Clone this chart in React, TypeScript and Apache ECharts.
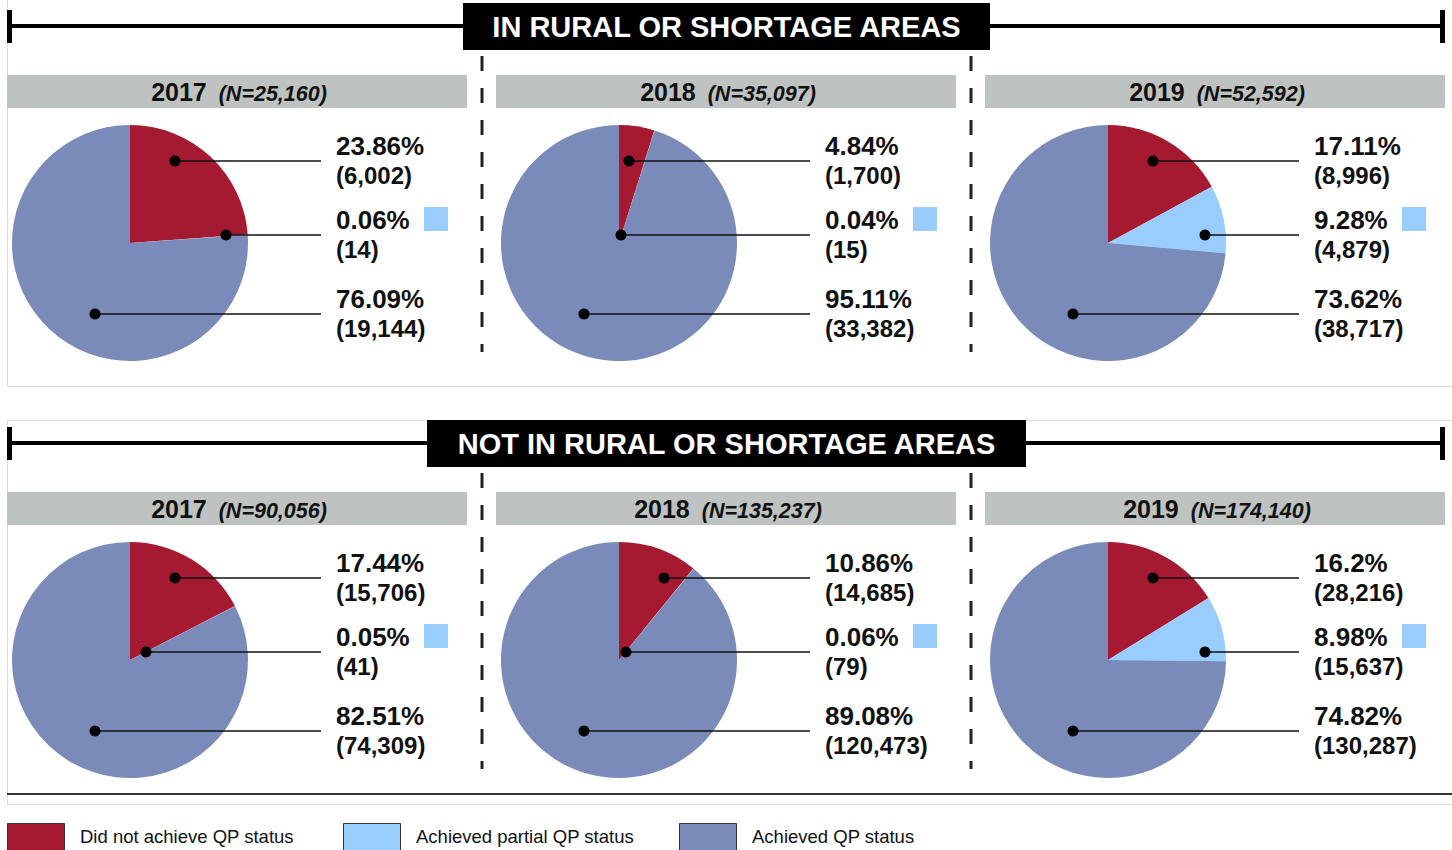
import React, { useEffect, useRef } from "react";
import * as echarts from "echarts";

// ---------- data ----------
const years = ["2017", "2018", "2019"];
const statusNames = ["Did not achieve QP status", "Achieved partial QP status", "Achieved QP status"];

const ruralNotAchieved = [6002, 1700, 8996];
const ruralPartial = [14, 15, 4879];
const ruralAchieved = [19144, 33382, 38717];
const ruralNotAchievedPct = ["23.86%", "4.84%", "17.11%"];
const ruralPartialPct = ["0.06%", "0.04%", "9.28%"];
const ruralAchievedPct = ["76.09%", "95.11%", "73.62%"];

const otherNotAchieved = [15706, 14685, 28216];
const otherPartial = [41, 79, 15637];
const otherAchieved = [74309, 120473, 130287];
const otherNotAchievedPct = ["17.44%", "10.86%", "16.2%"];
const otherPartialPct = ["0.05%", "0.06%", "8.98%"];
const otherAchievedPct = ["82.51%", "89.08%", "74.82%"];

const sectionTitles = ["IN RURAL OR SHORTAGE AREAS", "NOT IN RURAL OR SHORTAGE AREAS"];

// ---------- styling / layout (not data) ----------
const COLORS = ["#a51a30", "#99ccff", "#7a8bba"];
const FONT = "'Liberation Sans', Arial, Helvetica, sans-serif";
const PIE_R = 118;
const COL_CX = [130, 619, 1108];
const ROW_CY = [243, 660];
const ROW_SHIFT = [0, 417];
const BAR_X = [7, 496, 985];
// leader-dot horizontal offsets from pie centre (annotation placement)
const DOT_DX = [
  [[45, 96, -35], [10, 2, -35], [45, 97, -35]],
  [[45, 16, -35], [45, 7, -35], [45, 97, -35]],
];
const LABEL_ROWS = [-82, -8, 71];
const TITLE_BOX = [
  [463, 990],
  [427, 1026],
];

const fmt = (n: number) => n.toLocaleString("en-US");

export default function App() {
  const ref = useRef<HTMLDivElement>(null);

  useEffect(() => {
    if (!ref.current) return;
    document.body.style.margin = "0";
    const chart = echarts.init(ref.current, undefined, { renderer: "svg" });

    const groups = [
      {
        values: [ruralNotAchieved, ruralPartial, ruralAchieved],
        pcts: [ruralNotAchievedPct, ruralPartialPct, ruralAchievedPct],
      },
      {
        values: [otherNotAchieved, otherPartial, otherAchieved],
        pcts: [otherNotAchievedPct, otherPartialPct, otherAchievedPct],
      },
    ];

    const series: any[] = [];
    const graphics: any[] = [];

    // panel borders
    const light = "#dcdcdc";
    graphics.push(
      { type: "line", z: 0, shape: { x1: 7.5, y1: 0, x2: 7.5, y2: 386 }, style: { stroke: light, lineWidth: 1 } },
      { type: "line", z: 0, shape: { x1: 7, y1: 386.5, x2: 1452, y2: 386.5 }, style: { stroke: light, lineWidth: 1 } },
      { type: "line", z: 0, shape: { x1: 7, y1: 420.5, x2: 1452, y2: 420.5 }, style: { stroke: light, lineWidth: 1 } },
      { type: "line", z: 0, shape: { x1: 7.5, y1: 420, x2: 7.5, y2: 804 }, style: { stroke: light, lineWidth: 1 } },
      { type: "line", z: 0, shape: { x1: 7, y1: 804.5, x2: 1452, y2: 804.5 }, style: { stroke: light, lineWidth: 1 } },
      { type: "line", z: 0, shape: { x1: 7, y1: 794, x2: 1452, y2: 794 }, style: { stroke: "#333", lineWidth: 2 } }
    );

    groups.forEach((g, r) => {
      const shift = ROW_SHIFT[r];
      const lineY = 26 + shift;
      // section header line with end caps
      graphics.push(
        { type: "line", z: 1, shape: { x1: 9, y1: lineY, x2: 1443, y2: lineY }, style: { stroke: "#000", lineWidth: 4 } },
        { type: "rect", z: 1, shape: { x: 7, y: lineY - 16, width: 5, height: 33 }, style: { fill: "#000" } },
        { type: "rect", z: 1, shape: { x: 1440, y: lineY - 16, width: 5, height: 33 }, style: { fill: "#000" } }
      );
      const [bx1, bx2] = TITLE_BOX[r];
      graphics.push(
        { type: "rect", z: 2, shape: { x: bx1, y: lineY - 23, width: bx2 - bx1, height: 47 }, style: { fill: "#000" } },
        {
          type: "text",
          z: 3,
          x: (bx1 + bx2) / 2,
          y: lineY + 1,
          style: {
            text: sectionTitles[r],
            fill: "#fff",
            fontSize: 29,
            fontWeight: "bold",
            fontFamily: FONT,
            textAlign: "center",
            textVerticalAlign: "middle",
            align: "center",
            verticalAlign: "middle",
          },
        }
      );

      // dashed separators
      [482, 971].forEach((x) => {
        graphics.push({
          type: "line",
          z: 1,
          shape: { x1: x, y1: 56 + shift, x2: x, y2: 352 + shift },
          style: { stroke: "#222", lineWidth: 3, lineDash: [15, 17] },
        });
      });

      years.forEach((yr, c) => {
        const cx = COL_CX[c];
        const cy = ROW_CY[r];
        const vals = g.values.map((arr) => arr[c]);
        const total = vals.reduce((a, b) => a + b, 0);

        // year bar
        graphics.push(
          { type: "rect", z: 1, shape: { x: BAR_X[c], y: 75 + shift, width: 460, height: 33 }, style: { fill: "#bec3c1" } },
          {
            type: "text",
            z: 2,
            x: BAR_X[c] + 232,
            y: 92 + shift,
            style: {
              text: `{y|${yr}}{n|  (N=${fmt(total)})}`,
              textAlign: "center",
              textVerticalAlign: "middle",
              align: "center",
              verticalAlign: "middle",
              rich: {
                y: { fontSize: 25, fontWeight: "bold", fontFamily: FONT, fill: "#111" },
                n: { fontSize: 21.5, fontWeight: "bold", fontStyle: "italic", fontFamily: FONT, fill: "#111", padding: [3, 0, 0, 0] },
              },
            },
          }
        );

        // pie
        series.push({
          type: "pie",
          name: `${sectionTitles[r]} ${yr}`,
          center: [cx, cy],
          radius: [0, PIE_R],
          startAngle: 90,
          clockwise: true,
          silent: true,
          animation: false,
          label: { show: false },
          labelLine: { show: false },
          emphasis: { disabled: true },
          itemStyle: { borderWidth: 0 },
          data: vals.map((v, i) => ({ name: statusNames[i], value: v, itemStyle: { color: COLORS[i] } })),
        });

        // leader lines and labels
        vals.forEach((v, i) => {
          const ly = cy + LABEL_ROWS[i];
          const dx = DOT_DX[r][c][i];
          graphics.push(
            { type: "line", z: 10, shape: { x1: cx + dx, y1: ly, x2: cx + 191, y2: ly }, style: { stroke: "#111", lineWidth: 1.5 } },
            { type: "circle", z: 11, shape: { cx: cx + dx, cy: ly, r: 5.5 }, style: { fill: "#000" } },
            {
              type: "text",
              z: 10,
              x: cx + 206,
              y: ly - 15,
              style: {
                text: g.pcts[i][c],
                fill: "#111",
                fontSize: 26,
                fontWeight: "bold",
                fontFamily: FONT,
                textAlign: "left",
                textVerticalAlign: "middle",
                align: "left",
                verticalAlign: "middle",
              },
            },
            {
              type: "text",
              z: 10,
              x: cx + 206,
              y: ly + 14,
              style: {
                text: `(${fmt(v)})`,
                fill: "#111",
                fontSize: 24,
                fontWeight: "bold",
                fontFamily: FONT,
                textAlign: "left",
                textVerticalAlign: "middle",
                align: "left",
                verticalAlign: "middle",
              },
            }
          );
        });
        // partial-status colour swatch
        graphics.push({
          type: "rect",
          z: 10,
          shape: { x: cx + 294, y: cy - 36, width: 24, height: 24 },
          style: { fill: COLORS[1] },
        });
      });
    });

    // legend
    const LEG_X = [7, 343, 679];
    statusNames.forEach((name, i) => {
      graphics.push(
        {
          type: "rect",
          z: 5,
          shape: { x: LEG_X[i] + 0.5, y: 823.5, width: 57, height: 40 },
          style: { fill: COLORS[i], stroke: "#333", lineWidth: 1 },
        },
        {
          type: "text",
          z: 5,
          x: LEG_X[i] + 73,
          y: 836,
          style: {
            text: name,
            fill: "#111",
            fontSize: 18.5,
            fontFamily: FONT,
            textAlign: "left",
            textVerticalAlign: "middle",
            align: "left",
            verticalAlign: "middle",
          },
        }
      );
    });

    chart.setOption({
      animation: false,
      backgroundColor: "#fff",
      tooltip: { show: false },
      series,
      graphic: { elements: graphics },
    });

    return () => {
      chart.dispose();
    };
  }, []);

  return <div ref={ref} style={{ width: 1452, height: 850 }} />;
}
